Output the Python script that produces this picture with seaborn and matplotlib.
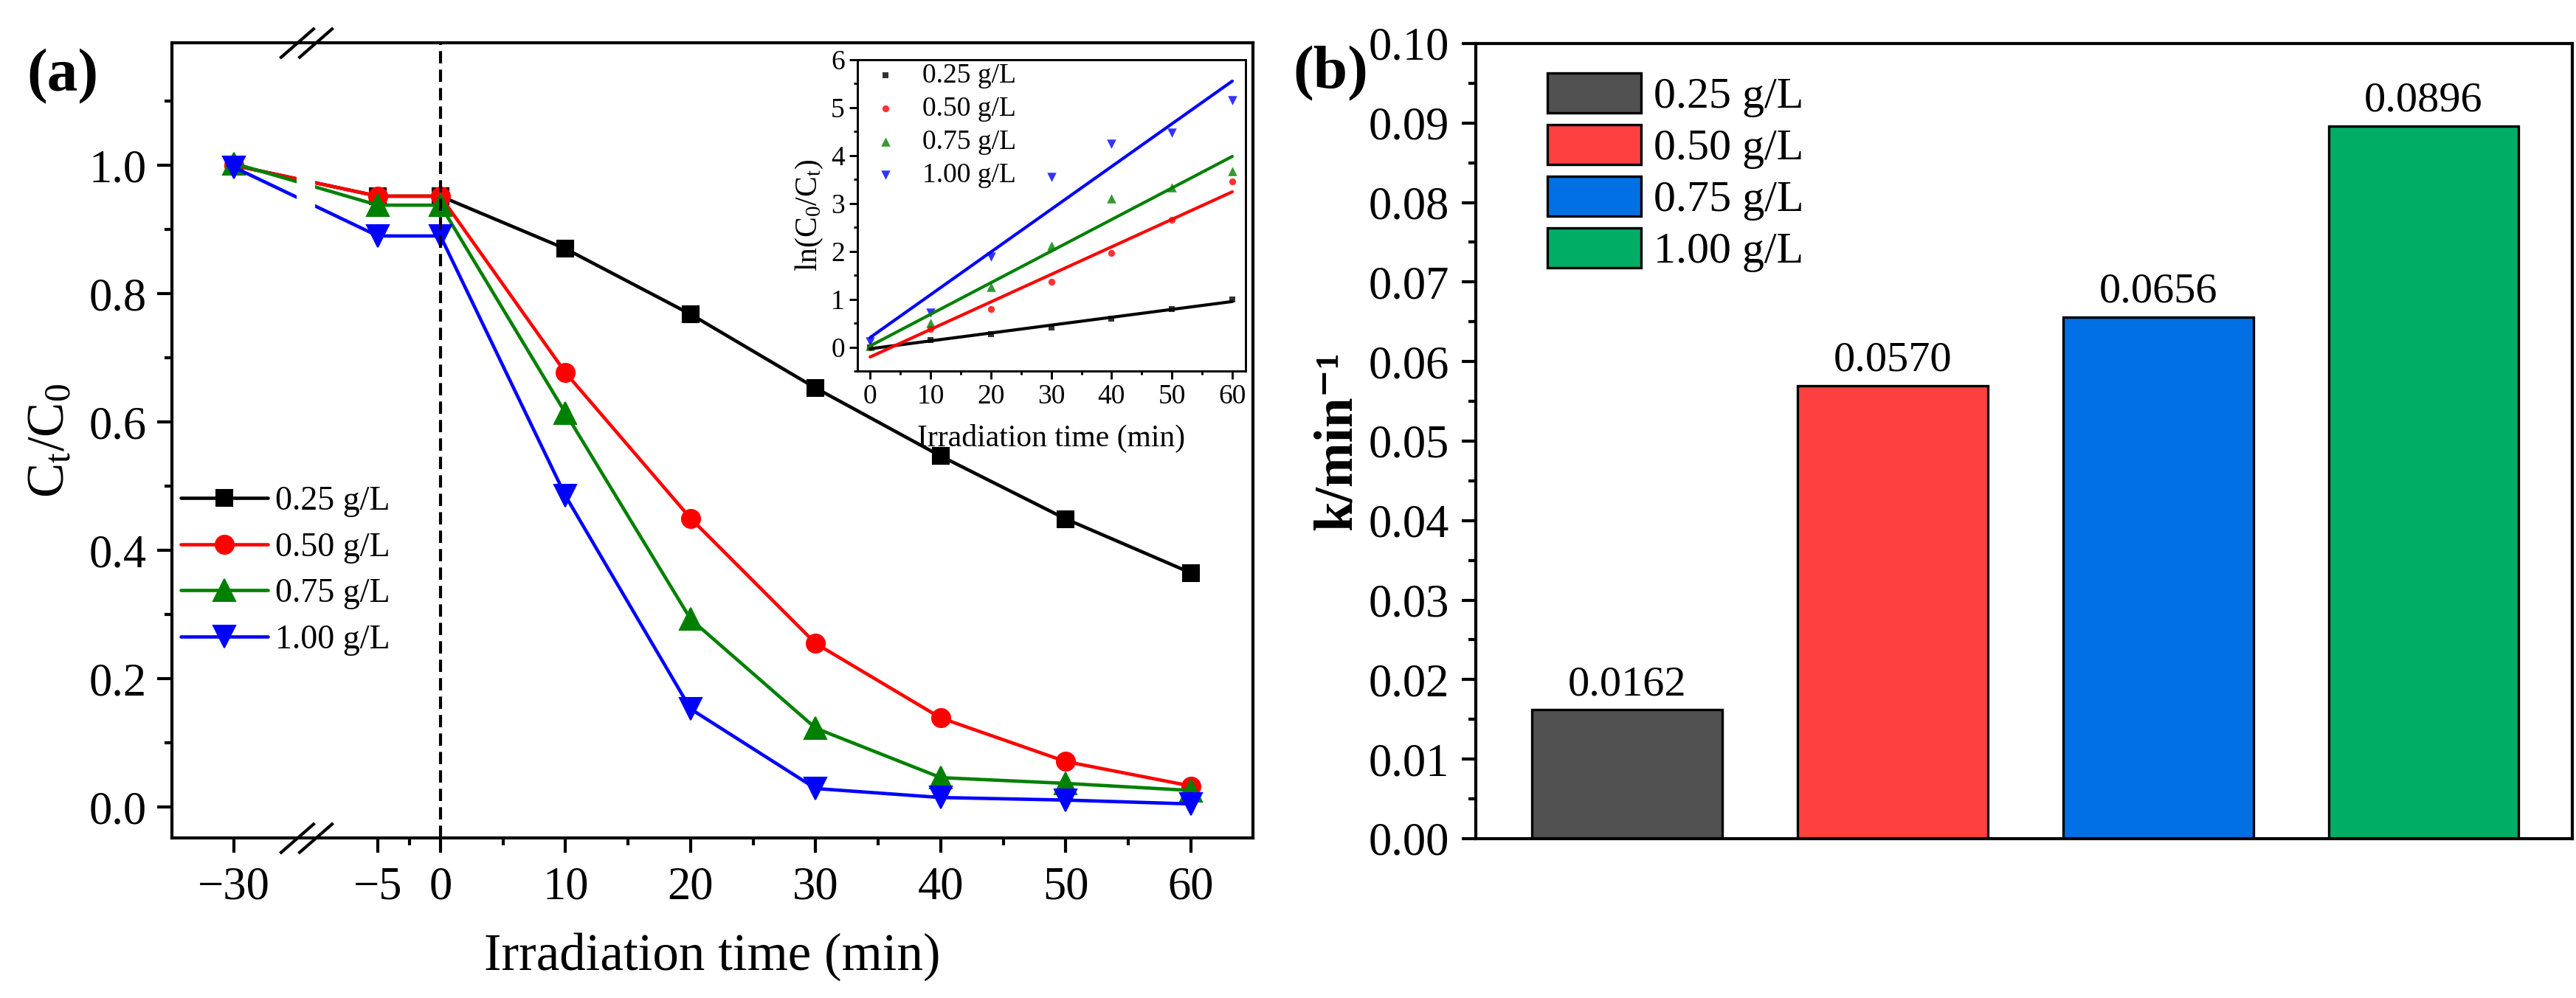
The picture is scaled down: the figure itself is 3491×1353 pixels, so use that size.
import numpy as np
import matplotlib
matplotlib.use("Agg")
import matplotlib.pyplot as plt
from matplotlib.path import Path
from matplotlib.ticker import FixedLocator, MultipleLocator, FormatStrFormatter
import seaborn as sns

# ---- data ----
TIME = [-30, -5, 0, 10, 20, 30, 40, 50, 60]
DOSES = ["0.25 g/L", "0.50 g/L", "0.75 g/L", "1.00 g/L"]
CT_025 = [1.000, 0.952, 0.952, 0.870, 0.768, 0.653, 0.547, 0.449, 0.365]
CT_050 = [1.000, 0.952, 0.952, 0.677, 0.450, 0.255, 0.139, 0.071, 0.033]
CT_075 = [1.003, 0.938, 0.938, 0.614, 0.293, 0.123, 0.046, 0.037, 0.026]
CT_100 = [0.997, 0.890, 0.890, 0.485, 0.153, 0.029, 0.015, 0.011, 0.005]

KIN_TIME = [0, 10, 20, 30, 40, 50, 60]
LN_025 = [0.00, 0.147, 0.265, 0.41, 0.60, 0.795, 0.99]
LN_050 = [0.00, 0.38, 0.795, 1.37, 1.97, 2.65, 3.46]
LN_075 = [0.03, 0.50, 1.25, 2.12, 3.11, 3.33, 3.68]
LN_100 = [0.12, 0.71, 1.89, 3.55, 4.24, 4.47, 5.16]

K_VALUES = [0.0162, 0.0570, 0.0656, 0.0896]

LINE_COLORS = ["black", "#FF0000", "#008000", "#0000FF"]
MARKERS = ["s", "o", "^", "v"]
MARKER_SIZES = [5.5, 6.0, 7.3, 7.3]
SCATTER_SIZES = [4, 5, 9, 9]
BAR_COLORS = ["#515151", "#FF4040", "#0070E4", "#00AD65"]

# broken x axis: the dark part (< -5 min) is squeezed
SQUEEZE = 0.46
BREAK_AT = -17.5


def fwd(x):
    x = np.asarray(x, dtype=float)
    return np.where(x >= -5, x, -5 + (x + 5) * SQUEEZE)


def inv(y):
    y = np.asarray(y, dtype=float)
    return np.where(y >= -5, y, -5 + (y + 5) / SQUEEZE)


sns.set_style("ticks", {
    "axes.edgecolor": "black",
    "xtick.color": "black",
    "ytick.color": "black",
    "text.color": "black",
    "axes.labelcolor": "black",
})
plt.rcParams["font.family"] = ["Liberation Serif", "DejaVu Serif"]
plt.rcParams["mathtext.fontset"] = "custom"
plt.rcParams["mathtext.rm"] = "Liberation Serif"
plt.rcParams["mathtext.it"] = "Liberation Serif:italic"
plt.rcParams["mathtext.bf"] = "Liberation Serif:bold"
plt.rcParams["axes.linewidth"] = 1.0

fig = plt.figure(figsize=(3491 / 300, 1353 / 300), dpi=300)

# ---------------- (a) ----------------
ax = fig.add_axes([0.06674, 0.16038, 0.41965, 0.79675])
ax.set_xscale("function", functions=(fwd, inv))

series = [CT_025, CT_050, CT_075, CT_100]
for vals, lab, col, mk, ms in zip(series, DOSES, LINE_COLORS, MARKERS, MARKER_SIZES):
    sns.lineplot(x=TIME, y=vals, ax=ax, color=col, marker=mk, markersize=ms,
                 markeredgecolor=col, markeredgewidth=0.5, lw=1.1, label=lab)

ax.axvline(0, color="black", ls="--", lw=1.0, dashes=(4, 2), zorder=3)
# white gap in the curves at the break
ax.axvspan(BREAK_AT - 1.6, BREAK_AT + 1.6, color="white", lw=0, zorder=2.1)
brk = Path([(-36, -20.5), (11, 20.5), (-11, -20.5), (36, 20.5)],
           [Path.MOVETO, Path.LINETO, Path.MOVETO, Path.LINETO])
ax.plot([BREAK_AT, BREAK_AT], [0, 1], transform=ax.get_xaxis_transform(),
        ls="none", marker=brk, ms=17.3, mec="black", mfc="none", mew=1.0,
        clip_on=False, zorder=6)

ax.set_xlim(-40.8, 64.96)
ax.set_ylim(-0.048, 1.191)
ax.xaxis.set_major_locator(FixedLocator([-30, -5, 0, 10, 20, 30, 40, 50, 60]))
ax.xaxis.set_minor_locator(FixedLocator([-2.5, 5, 15, 25, 35, 45, 55]))
ax.set_xticklabels(["\u221230", "\u22125", "0", "10", "20", "30", "40", "50", "60"])
ax.yaxis.set_major_locator(FixedLocator([0, 0.2, 0.4, 0.6, 0.8, 1.0]))
ax.yaxis.set_minor_locator(FixedLocator([0.1, 0.3, 0.5, 0.7, 0.9, 1.1]))
ax.yaxis.set_major_formatter(FormatStrFormatter("%.1f"))
ax.tick_params(which="major", length=4.8, width=1.0, labelsize=15)
ax.tick_params(which="minor", length=2.4, width=1.0)
ax.tick_params(axis="x", pad=4.5)
ax.tick_params(axis="y", pad=3.5)
ax.set_xlabel("Irradiation time (min)", fontsize=17, labelpad=7.5)
ax.set_ylabel(r"C$_\mathrm{t}$/C$_\mathrm{0}$", fontsize=17, labelpad=4.5)
ax.legend(loc="center left", bbox_to_anchor=(0.008, 0.336), frameon=False,
          fontsize=11, handlelength=2.57, handletextpad=0.22, labelspacing=0.44,
          borderpad=0, borderaxespad=0)

# inset: pseudo-first-order kinetics
axin = fig.add_axes([0.33286, 0.62823, 0.15067, 0.3119])
kin = [LN_025, LN_050, LN_075, LN_100]
for vals, lab, col, mk, s in zip(kin, DOSES, LINE_COLORS, MARKERS, SCATTER_SIZES):
    sns.regplot(x=KIN_TIME, y=vals, ax=axin, ci=None, marker=mk, color=col,
                scatter_kws={"s": s, "linewidths": 0}, line_kws={"lw": 1.0},
                label=lab)
for sp in axin.spines.values():
    sp.set_linewidth(0.7)
axin.set_xlim(-2.1, 62.2)
axin.set_ylim(-0.5, 6)
axin.xaxis.set_major_locator(MultipleLocator(10))
axin.xaxis.set_minor_locator(MultipleLocator(5))
axin.yaxis.set_major_locator(MultipleLocator(1))
axin.yaxis.set_minor_locator(MultipleLocator(0.5))
axin.tick_params(which="major", length=2.6, width=0.7, labelsize=9, pad=1.5)
axin.tick_params(which="minor", length=1.3, width=0.7)
axin.set_xlabel("Irradiation time (min)", fontsize=10, labelpad=5)
axin.set_ylabel(r"ln(C$_\mathrm{0}$/C$_\mathrm{t}$)", fontsize=10, labelpad=2)
axin.legend(loc="upper left", bbox_to_anchor=(0.036, 0.99), frameon=False,
            fontsize=9, handlelength=1.0, handletextpad=0.85, labelspacing=0.28,
            borderpad=0, borderaxespad=0, scatterpoints=1)

# ---------------- (b) ----------------
axb = fig.add_axes([0.57290, 0.15965, 0.42567, 0.79675])
sns.barplot(x=DOSES, y=K_VALUES, hue=DOSES, palette=BAR_COLORS, width=0.716,
            saturation=1, edgecolor="black", linewidth=0.8, legend=False, ax=axb)
for cont in axb.containers:
    axb.bar_label(cont, fmt="%.4f", padding=2, fontsize=14)
axb.set_xlim(-0.57, 3.56)
axb.set_ylim(0, 0.10)
axb.set_xticks([])
axb.set_xlabel("")
axb.yaxis.set_major_locator(MultipleLocator(0.01))
axb.yaxis.set_minor_locator(MultipleLocator(0.005))
axb.yaxis.set_major_formatter(FormatStrFormatter("%.2f"))
axb.tick_params(which="major", length=4.6, width=1.0, labelsize=15, pad=4)
axb.tick_params(which="minor", length=2.3, width=1.0)
axb.set_ylabel("k/min\u207b\u00b9", fontsize=17.5, fontweight="bold", labelpad=2)
axb.legend(handles=list(axb.patches[:4]), labels=DOSES, loc="upper left",
           bbox_to_anchor=(0.065, 0.963), frameon=False, fontsize=14.4,
           handlelength=2.13, handleheight=1.0, handletextpad=0.28,
           labelspacing=0.16, borderpad=0, borderaxespad=0)

fig.text(0.0103, 0.923, "(a)", fontsize=20, fontweight="bold", va="center")
fig.text(0.5019, 0.926, "(b)", fontsize=20, fontweight="bold", va="center")

fig.savefig("out.png", dpi=300)
plt.close(fig)
